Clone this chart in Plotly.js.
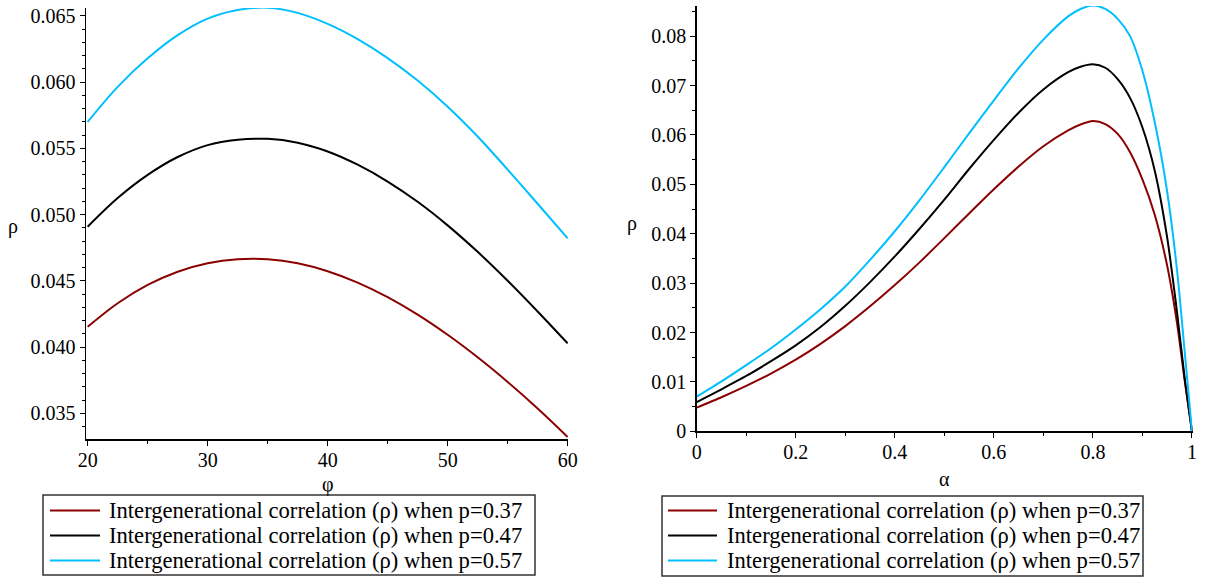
<!DOCTYPE html>
<html>
<head>
<meta charset="utf-8">
<script src="https://cdn.plot.ly/plotly-3.0.1.min.js"></script>
<style>html,body{margin:0;padding:0;background:#fff;}#chart{width:1207px;height:579px;}</style>
</head>
<body>
<div id="chart"></div>
<script>
// ---- Data ----
var phi = [20, 22.5, 25, 27.5, 30, 32.5, 35, 37.5, 40, 42.5, 45, 47.5, 50, 52.5, 55, 57.5, 60];
var rhoPhi037 = [0.04153, 0.04331, 0.04469, 0.04569, 0.04633, 0.04663, 0.04663, 0.04633, 0.04573, 0.04487, 0.04377, 0.04245, 0.04093, 0.03923, 0.03737, 0.03537, 0.03322];
var rhoPhi047 = [0.04909, 0.05125, 0.05300, 0.05435, 0.05525, 0.05565, 0.05572, 0.05543, 0.05477, 0.05377, 0.05250, 0.05097, 0.04919, 0.04719, 0.04501, 0.04269, 0.04028];
var rhoPhi057 = [0.0570, 0.05965, 0.06180, 0.06355, 0.06480, 0.06545, 0.06562, 0.06523, 0.06440, 0.06325, 0.06182, 0.06012, 0.05815, 0.05590, 0.05340, 0.05082, 0.04821];

var alpha = [0, 0.05, 0.1, 0.15, 0.2, 0.25, 0.3, 0.35, 0.4, 0.45, 0.5, 0.55, 0.6, 0.65, 0.7, 0.75, 0.775, 0.8, 0.825, 0.85, 0.875, 0.9, 0.925, 0.95, 0.97, 0.985, 1];
var rhoAlpha037 = [0.0048, 0.0069, 0.0092, 0.0117, 0.0145, 0.0177, 0.0213, 0.0253, 0.0296, 0.0342, 0.0391, 0.0441, 0.0490, 0.0536, 0.0577, 0.0609, 0.0621, 0.0628, 0.0622, 0.0602, 0.0565, 0.0510, 0.0438, 0.0335, 0.0218, 0.0105, 0.0];
var rhoAlpha047 = [0.0059, 0.0085, 0.0112, 0.0142, 0.0174, 0.0211, 0.0254, 0.0302, 0.0354, 0.0410, 0.0469, 0.0531, 0.0590, 0.0645, 0.0692, 0.0727, 0.0738, 0.0743, 0.0736, 0.0713, 0.0675, 0.0615, 0.0527, 0.0392, 0.0240, 0.0110, 0.0];
var rhoAlpha057 = [0.0070, 0.0101, 0.0134, 0.0168, 0.0206, 0.0247, 0.0293, 0.0347, 0.0405, 0.0468, 0.0535, 0.0603, 0.0670, 0.0735, 0.0793, 0.0840, 0.0855, 0.0862, 0.0855, 0.0835, 0.0800, 0.0730, 0.0625, 0.0485, 0.0325, 0.0165, 0.0];

var seriesNames = [
  "Intergenerational correlation (ρ) when p=0.37",
  "Intergenerational correlation (ρ) when p=0.47",
  "Intergenerational correlation (ρ) when p=0.57"
];
var seriesColors = ["#8b0000", "#000000", "#00bfff"];
var axisLabels = {leftX: 'φ', rightX: 'α', y: 'ρ'};

var W = 1207, H = 579;
var serif = "Liberation Serif";

// ---- Traces ----
var leftY = [rhoPhi037, rhoPhi047, rhoPhi057];
var rightY = [rhoAlpha037, rhoAlpha047, rhoAlpha057];
var traces = [];
for (var i = 0; i < 3; i++) {
  traces.push({
    x: phi, y: leftY[i], type: 'scatter', mode: 'lines', name: seriesNames[i],
    line: {color: seriesColors[i], width: 2, shape: 'spline', smoothing: 1},
    xaxis: 'x', yaxis: 'y', showlegend: false
  });
}
for (var j = 0; j < 3; j++) {
  traces.push({
    x: alpha, y: rightY[j], type: 'scatter', mode: 'lines', name: seriesNames[j],
    line: {color: seriesColors[j], width: 2, shape: 'spline', smoothing: 0.7},
    xaxis: 'x2', yaxis: 'y2', showlegend: false
  });
}

var tickFont = {family: serif, size: 20, color: '#000'};
function axisCommon(extra) {
  var a = {
    showline: true, linecolor: '#000', linewidth: 1.5,
    showgrid: false, zeroline: false,
    ticks: 'outside', ticklen: 5, tickwidth: 1, tickcolor: '#000',
    tickfont: tickFont, automargin: false, fixedrange: true
  };
  for (var k in extra) a[k] = extra[k];
  return a;
}

// ---- Boxed legends below each panel (built from the series names/colours) ----
var shapes = [], annotations = [];
var legendBoxes = [
  {x0: 43, x1: 535, y0: 495, y1: 575, lineX0: 50, lineX1: 100, textX: 107},
  {x0: 662, x1: 1143, y0: 496, y1: 576, lineX0: 668, lineX1: 717, textX: 725}
];
var rowY = [510.5, 535.5, 560.5];
legendBoxes.forEach(function (b) {
  shapes.push({type: 'rect', xref: 'paper', yref: 'paper',
    x0: b.x0 / W, x1: b.x1 / W, y0: 1 - b.y1 / H, y1: 1 - b.y0 / H,
    line: {color: '#333', width: 1.5}, fillcolor: 'rgba(0,0,0,0)'});
  for (var r = 0; r < 3; r++) {
    shapes.push({type: 'line', xref: 'paper', yref: 'paper',
      x0: b.lineX0 / W, x1: b.lineX1 / W, y0: 1 - rowY[r] / H, y1: 1 - rowY[r] / H,
      line: {color: seriesColors[r], width: 2}});
    annotations.push({text: seriesNames[r], xref: 'paper', yref: 'paper',
      x: b.textX / W, y: 1 - rowY[r] / H, xanchor: 'left', yanchor: 'middle',
      showarrow: false, font: {family: serif, size: 22.6, color: '#000'}});
  }
});
// axis labels (y labels are horizontal, as in the reference)
var labelFont = {family: serif, size: 20, color: '#000'};
[[axisLabels.y, 13, 226], [axisLabels.y, 632, 223], [axisLabels.leftX, 327.7, 484], [axisLabels.rightX, 944.5, 479]]
  .forEach(function (l) {
    annotations.push({text: l[0], xref: 'paper', yref: 'paper', x: l[1] / W, y: 1 - l[2] / H,
      xanchor: 'center', yanchor: 'middle', showarrow: false, font: labelFont});
  });

var layout = {
  width: W, height: H,
  margin: {l: 0, r: 0, t: 0, b: 0, autoexpand: false},
  paper_bgcolor: '#fff', plot_bgcolor: '#fff',
  font: {family: serif, color: '#000'},
  showlegend: false,
  xaxis: axisCommon({
    domain: [86 / W, 568 / W], range: [19.86, 60.03],
    tickvals: [20, 30, 40, 50, 60], ticklabelstandoff: -3,
    minor: {dtick: 5, tick0: 20, ticks: 'outside', ticklen: 3, tickcolor: '#000'},
    anchor: 'y'
  }),
  yaxis: axisCommon({
    domain: [1 - 439.3 / H, 1 - 8 / H], range: [0.03304, 0.0656],
    tickvals: [0.035, 0.04, 0.045, 0.05, 0.055, 0.06, 0.065], tickformat: '.3f',
    minor: {dtick: 0.001, tick0: 0.035, ticks: 'outside', ticklen: 3, tickcolor: '#000'},
    anchor: 'x'
  }),
  xaxis2: axisCommon({
    domain: [696.7 / W, 1192.7 / W], range: [0, 1.0015],
    tickvals: [0, 0.2, 0.4, 0.6, 0.8, 1], ticktext: ['0', '0.2', '0.4', '0.6', '0.8', '1'],
    ticklabelstandoff: -3,
    minor: {dtick: 0.1, tick0: 0, ticks: 'outside', ticklen: 3, tickcolor: '#000'},
    anchor: 'y2'
  }),
  yaxis2: axisCommon({
    domain: [1 - 431.3 / H, 1 - 6 / H], range: [0, 0.0861],
    tickvals: [0, 0.01, 0.02, 0.03, 0.04, 0.05, 0.06, 0.07, 0.08],
    ticktext: ['0', '0.01', '0.02', '0.03', '0.04', '0.05', '0.06', '0.07', '0.08'],
    minor: {dtick: 0.005, tick0: 0, ticks: 'outside', ticklen: 3, tickcolor: '#000'},
    anchor: 'x2'
  }),
  shapes: shapes,
  annotations: annotations
};

Plotly.newPlot('chart', traces, layout, {displayModeBar: false, staticPlot: true});
</script>
</body>
</html>
